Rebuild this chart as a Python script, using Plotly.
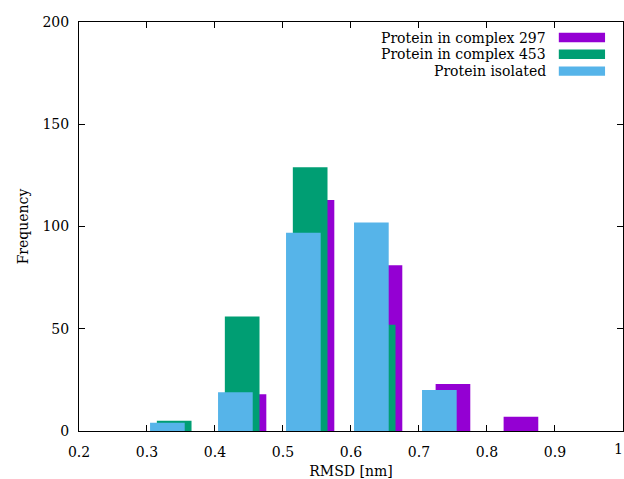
import plotly.graph_objects as go

# Data (bin centres in nm, frequencies)
bins = [0.35, 0.45, 0.55, 0.65, 0.75, 0.85]
complex297 = [0, 18, 113, 81, 23, 7]
complex453 = [5, 56, 129, 52, 0, 0]
isolated = [4, 19, 97, 102, 20, 0]

names = ["Protein in complex 297", "Protein in complex 453", "Protein isolated"]
colors = ["#9400D3", "#009E73", "#56B4E9"]
offsets = [0.0, -0.01, -0.02]
series = [complex297, complex453, isolated]

x_ticks = [0.2, 0.3, 0.4, 0.5, 0.6, 0.7, 0.8, 0.9, 1.0]
x_tick_labels = ["0.2", "0.3", "0.4", "0.5", "0.6", "0.7", "0.8", "0.9", ""]
last_x_label = "1"
y_ticks = [0, 50, 100, 150, 200]

FONT = "DejaVu Serif"
FS = 14

fig = go.Figure()
for name, col, off, vals in zip(names, colors, offsets, series):
    fig.add_trace(go.Bar(
        x=[b + off for b in bins], y=vals, width=0.051, name=name,
        marker=dict(color=col, line=dict(width=0)), showlegend=False,
    ))

axis_common = dict(
    showgrid=False, zeroline=False, showline=True, linecolor="black", linewidth=1,
    mirror="allticks", ticks="inside", ticklen=6, tickcolor="black", tickwidth=1,
    tickfont=dict(family=FONT, size=FS, color="black"),
    ticklabeloverflow="allow", automargin=False,
)

fig.update_layout(
    barmode="overlay",
    width=624, height=479,
    margin=dict(l=79, r=1, t=22, b=48),
    plot_bgcolor="white", paper_bgcolor="white",
    font=dict(family=FONT, size=FS, color="black"),
    xaxis=dict(range=[0.2, 1.0001], tickvals=x_ticks, ticktext=x_tick_labels,
               ticklabelstandoff=8,
               title=dict(text="RMSD [nm]", font=dict(family=FONT, size=FS), standoff=8),
               **axis_common),
    yaxis=dict(range=[0, 200], tickvals=y_ticks, ticklabelstandoff=6,
               title=dict(text="Frequency", font=dict(family=FONT, size=FS), standoff=10),
               **axis_common),
)

# last x tick label, kept inside the page
fig.add_annotation(x=1.0, y=0, xref="paper", yref="paper", text=last_x_label,
                   showarrow=False, xanchor="right", yanchor="top", yshift=-8, xshift=2,
                   font=dict(family=FONT, size=FS, color="black"))

# Manual gnuplot-style legend (text right-aligned, key box on right)
row_y = [0.962, 0.921, 0.880]
for name, col, yc in zip(names, colors, row_y):
    fig.add_annotation(x=0.862, y=yc, xref="paper", yref="paper", text=name,
                       showarrow=False, xanchor="right", yanchor="middle",
                       font=dict(family=FONT, size=FS, color="black"))
    fig.add_shape(type="rect", xref="paper", yref="paper",
                  x0=0.882, x1=0.967, y0=yc - 0.0115, y1=yc + 0.0115,
                  fillcolor=col, line=dict(width=0))

fig.write_html("out.html")
